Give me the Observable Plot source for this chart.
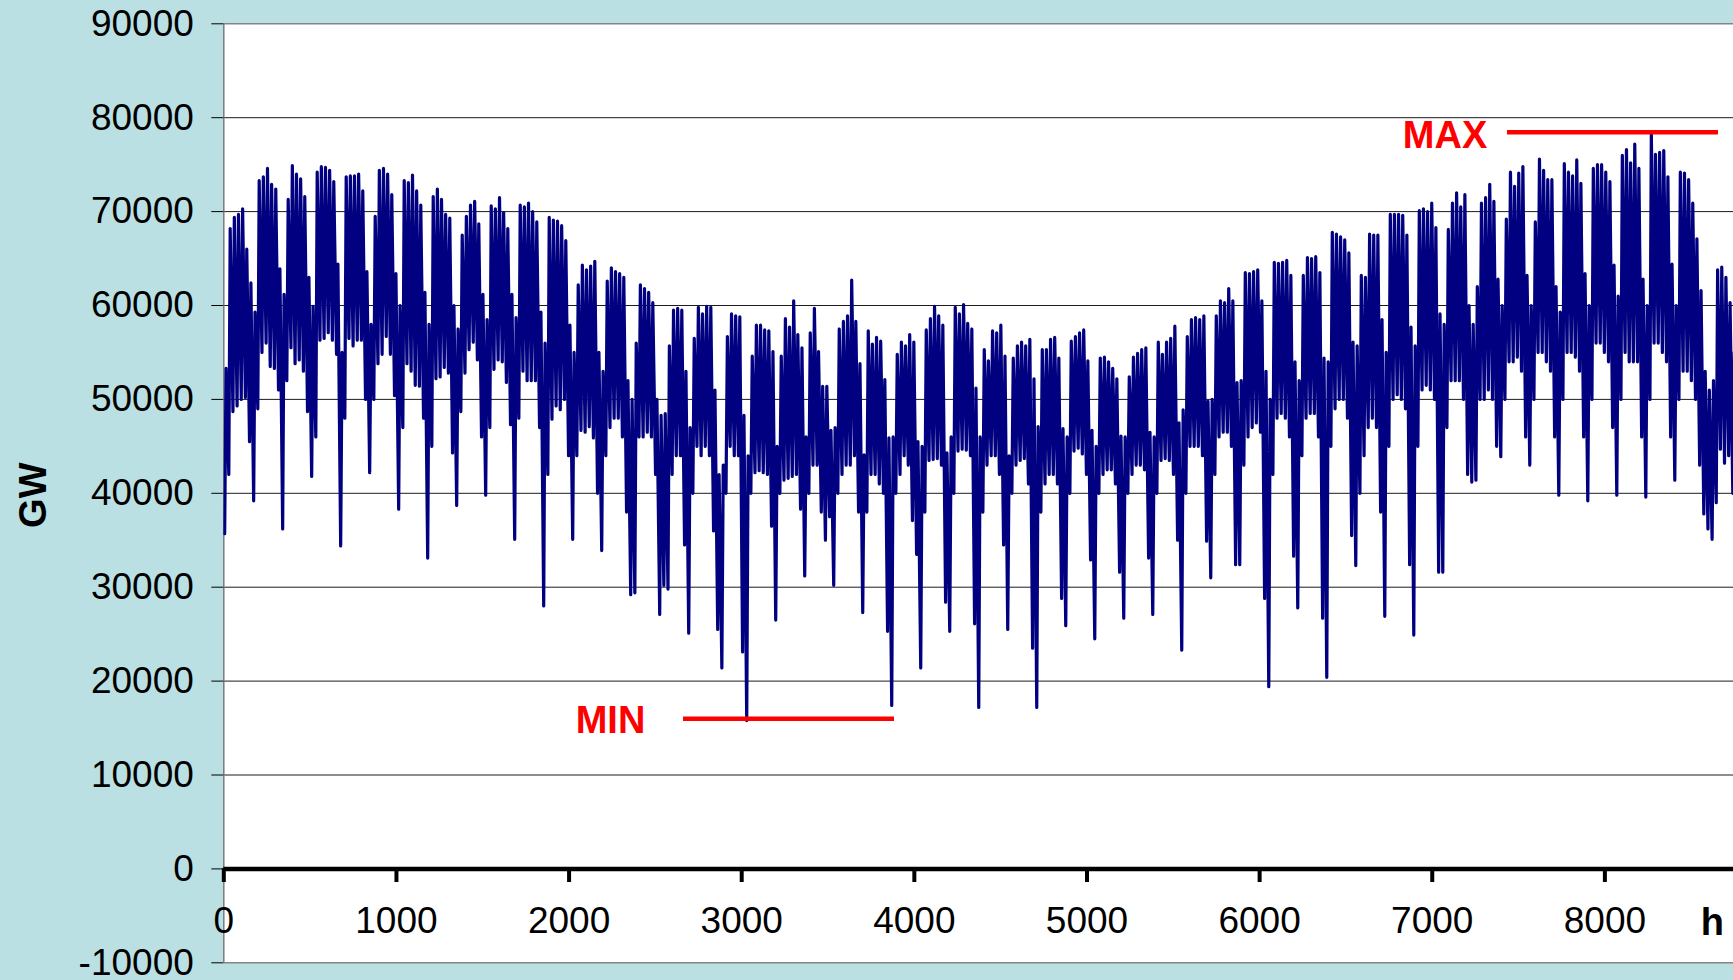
<!DOCTYPE html>
<html><head><meta charset="utf-8">
<script src="https://cdn.jsdelivr.net/npm/d3@7"></script>
<script src="https://cdn.jsdelivr.net/npm/@observablehq/plot@0.6"></script>
<style>
html,body{margin:0;padding:0;background:#bbe0e3;}
#chart{width:1733px;height:980px;overflow:hidden;}
svg{font-family:"Liberation Sans",Arial,sans-serif;}
</style></head><body><div id="chart"></div>
<script>
// Daily peak (daytime maximum) and trough (night minimum) load, one week (Sun..Sat) per row
const dailyPeak = [
53300,68200,69400,69700,70300,66000,62400,
59300,73300,73700,74600,72900,72400,63900,
61200,71300,74900,74000,73500,71600,63000,
59900,74200,74800,74700,74400,73200,64400,
55000,73700,73800,73800,74000,72200,63600,
58000,69500,74400,74600,74000,71800,63400,
60000,73300,73100,73900,72200,70700,61400,
58000,71600,72400,71300,69700,69300,60000,
57500,67500,69500,70700,71100,68700,61200,
58500,70600,70300,71500,69900,68200,61200,
58700,70700,70500,70900,70000,68900,59300,
56000,69400,69100,69000,68500,66900,57900,
55000,62200,64300,63800,64200,64700,55000,
53000,62600,64000,63600,63400,63000,52000,
50000,56000,62200,61800,61400,60300,50000,
48300,48500,55700,59500,59700,59500,53000,
47000,56500,59800,59100,59900,59800,51000,
42000,43000,56700,59100,58900,58800,48300,
44000,54600,57900,57900,57400,57300,55100,
45000,54600,58600,57700,60500,56900,55500,
46000,57100,59700,55100,51400,51400,46700,
47000,57500,58300,58900,62700,58300,53800,
44100,57300,55900,56600,56200,52100,45900,
46000,54800,56100,55700,56900,56100,45500,
45000,57400,58600,59900,58900,57900,44300,
46000,59800,59100,60100,58100,57500,51200,
46000,55300,54100,57300,57100,57900,54600,
44000,54400,55700,56100,55700,56400,52200,
47100,55300,55300,56400,56600,54400,46900,
46000,56200,56700,57100,57400,54100,46700,
45000,54400,54500,54000,53300,52200,46100,
46000,52400,54500,54900,55300,55500,46500,
46000,56100,54800,56100,56500,57800,47500,
48900,56700,58500,58700,58500,58900,49800,
50000,58900,60500,60300,61800,60500,51800,
52000,63500,63400,63600,63800,60500,53000,
50000,64600,64500,64600,64800,63200,54000,
52000,63200,65100,65000,65200,63500,54400,
54000,67800,67600,67300,67000,65600,56100,
55700,63200,63000,67600,67500,67500,58500,
55000,69700,69700,69700,69600,67500,57700,
55700,70100,70300,70000,70900,68300,59100,
58000,68100,70900,72000,70500,71800,60000,
58000,62000,70900,71500,72900,71100,62800,
60000,69200,74200,72700,74100,74800,63200,
60000,68900,75600,74400,73400,73400,62000,
59300,75100,74200,73800,75500,73000,63400,
60000,74600,75000,75000,74200,73200,64300,
61000,76000,76600,75200,77200,74600,62800,
60000,78300,76100,76300,76500,73700,64400,
60000,74200,74100,73400,70900,67100,61600,
53000,51000,52000,63800,64100,63000,60300,
55000
];
const dailyTrough = [
35700,42000,48700,49300,50000,50200,45500,
39200,49000,55000,56000,53500,53300,51000,
36200,52000,55500,53800,54200,53000,48700,
41800,46000,56300,56500,57100,56300,54800,
34400,48000,56500,55700,56300,56300,50000,
42200,50000,53800,54800,56700,54800,50400,
38300,47000,53800,53000,51500,51400,48000,
33100,45000,52200,52400,53400,52800,44300,
38700,48700,52800,55300,56100,54200,46000,
39800,47000,53200,54200,54000,51800,47300,
35100,48000,53000,52000,52000,52000,47000,
28000,42000,47900,49300,48900,50000,44000,
35100,44000,46700,46500,47100,45900,40000,
33900,44000,47000,48000,48000,46000,38000,
29200,29400,46000,46000,46500,46000,42000,
27100,30200,29800,42000,44000,44000,34500,
25100,40000,45000,44000,45000,44000,36000,
25500,21400,40000,45000,44000,44000,23100,
15800,40000,42200,42400,42200,42000,36500,
26500,40000,41400,41600,41800,42000,38300,
31200,40000,43000,43000,38000,35000,37500,
30200,40000,42000,43000,43000,44000,38000,
27300,38000,42000,42000,41000,40000,25300,
17400,40000,42000,44000,43000,37100,33500,
21400,38000,43500,43600,43700,43000,28400,
25300,40000,44500,44700,44600,44000,26100,
17200,38000,43000,44000,44000,42000,34500,
25500,40000,43000,43500,43700,41000,23500,
17200,38000,41000,42000,42000,41000,28800,
25900,40000,44500,44800,44200,42000,32900,
24500,40000,42000,42500,42500,41000,31600,
26700,40000,42000,43000,43000,42500,33100,
27100,40000,43500,43700,43500,42000,35000,
23300,40000,45000,45000,45000,44000,34900,
31000,42000,46000,46500,46500,45000,32400,
32400,43000,46000,47000,47500,46500,28800,
19400,42000,48000,48500,48000,46000,33300,
27800,44000,48000,48500,48500,46000,26700,
20400,45000,49000,50000,50000,48000,35500,
32300,40000,44000,47000,48000,47000,38000,
26900,45000,50000,50500,50000,49000,32400,
24900,45000,51000,51500,51000,50000,31600,
31600,47000,52000,52000,52000,50000,42000,
41200,41400,50000,50000,51000,50000,45000,
43900,50000,54000,54000,54500,53000,46000,
43000,50000,55000,55000,54000,53000,46000,
39800,50000,55000,55000,54500,53000,46000,
39200,50000,56000,56000,55000,54000,47000,
39800,50000,55000,54000,54000,54000,46000,
39600,50000,56000,56000,55000,54000,46000,
41400,50000,53000,53000,52000,50000,43000,
37800,36200,35100,39000,44700,43200,44000,
40000
];
const yTicks = [-10000,0,10000,20000,30000,40000,50000,60000,70000,80000,90000];
const gridLines = [10000,20000,30000,40000,50000,60000,70000,80000];
const xTicks = [0,1000,2000,3000,4000,5000,6000,7000,8000];
const maxLoad = 78450;
const minLoad = 16000;
const maxSpan = [7436, 8658];
const minSpan = [2663, 3885];

const hourly = [];
dailyPeak.forEach((p, d) => {
  hourly.push({hour: d * 24 + 5, load: dailyTrough[d]});
  hourly.push({hour: d * 24 + 13, load: p});
});

const font = "Liberation Sans, Arial, sans-serif";
const chart = Plot.plot({
  width: 1733,
  height: 980,
  marginLeft: 223.3,
  marginRight: 0,
  marginTop: 23.3,
  marginBottom: 17.7,
  style: {background: "transparent", fontFamily: font, color: "black", overflow: "visible"},
  x: {domain: [0, 8745], axis: null},
  y: {domain: [-10000, 90000], axis: null},
  marks: [
    Plot.frame({fill: "white", stroke: null}),
    Plot.ruleY(gridLines, {stroke: "#1c1c1c", strokeWidth: 1}),
    Plot.ruleY([90000, -10000], {stroke: "#858585", strokeWidth: 1.5}),
    Plot.ruleX([0], {stroke: "#7a7a7a", strokeWidth: 1.5}),
    Plot.line(hourly, {x: "hour", y: "load", stroke: "#000080", strokeWidth: 3.2, clip: true}),
    Plot.ruleY([0], {stroke: "black", strokeWidth: 4.5}),
    Plot.ruleX(xTicks, {x: d => d, y1: 0, y2: -1450, stroke: "black", strokeWidth: 4}),
    Plot.text(xTicks, {x: d => d, y: -5570, text: d => String(d), fontSize: 37, fill: "black"}),
    Plot.axisY(yTicks, {anchor: "left", label: null, tickSize: 12, tickPadding: 18, tickFormat: d => String(d), fontSize: 37, fill: "black", stroke: "black"}),
    Plot.ruleY([maxLoad], {x1: maxSpan[0], x2: maxSpan[1], stroke: "#ff0000", strokeWidth: 4.5}),
    Plot.ruleY([minLoad], {x1: minSpan[0], x2: minSpan[1], stroke: "#ff0000", strokeWidth: 4.5}),
    Plot.text(["MAX"], {x: 7319, y: 78100, text: d => d, textAnchor: "end", fill: "#ff0000", fontWeight: "bold", fontSize: 38}),
    Plot.text(["MIN"], {x: 2442, y: 15800, text: d => d, textAnchor: "end", fill: "#ff0000", fontWeight: "bold", fontSize: 38}),
    Plot.text(["h"], {x: 8623, y: -5700, text: d => d, fill: "black", fontWeight: "bold", fontSize: 38}),
    Plot.text(["GW"], {x: -1102, y: 39800, text: d => d, rotate: -90, fill: "black", fontWeight: "bold", fontSize: 38})
  ]
});
document.getElementById("chart").appendChild(chart);
</script>
</body></html>
